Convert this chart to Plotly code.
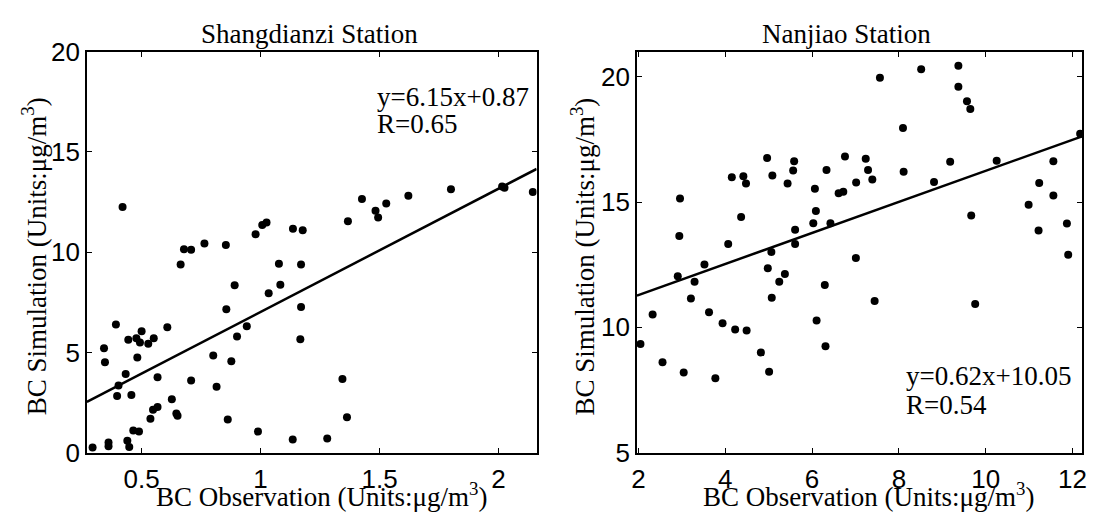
import plotly.graph_objects as go

# ---------------- data ----------------
# Shangdianzi Station
sdz_obs = [0.294, 0.361, 0.361, 0.440, 0.448, 0.465, 0.489, 0.342, 0.346, 0.392,
           0.444, 0.478, 0.493, 0.500, 0.528, 0.551, 0.482, 0.433, 0.403, 0.397,
           0.457, 0.567, 0.537, 0.548, 0.567, 0.608, 0.664, 0.627, 0.646, 0.651,
           0.708, 0.801, 0.815, 0.856, 0.877, 0.862, 0.891, 0.901, 0.942, 0.989,
           1.034, 1.083, 1.077, 1.170, 1.170, 1.167, 1.135, 0.979, 1.007, 1.025,
           1.136, 1.177, 1.344, 1.363, 1.280, 1.367, 1.426, 1.483, 1.494, 1.528,
           1.621, 1.800, 2.015, 2.025, 2.144, 0.420, 0.678, 0.708, 0.764, 0.854]
sdz_sim = [0.25, 0.51, 0.32, 0.59, 0.28, 1.11, 1.05, 5.21, 4.51, 6.39,
           5.63, 5.71, 5.49, 6.06, 5.43, 5.71, 4.75, 3.92, 3.35, 2.83,
           2.88, 3.76, 1.69, 2.14, 2.28, 6.26, 9.39, 2.66, 1.95, 1.84,
           3.60, 4.85, 3.29, 7.15, 4.56, 1.65, 8.35, 5.79, 6.31, 1.05,
           7.95, 8.38, 9.43, 9.39, 7.27, 5.66, 0.65, 10.90, 11.36, 11.48,
           11.17, 11.10, 3.68, 1.77, 0.70, 11.55, 12.66, 12.07, 11.73, 12.43,
           12.82, 13.14, 13.28, 13.21, 13.01, 12.25, 10.15, 10.12, 10.43, 10.36]
sdz_slope, sdz_intercept, sdz_r = 6.15, 0.87, 0.65

# Nanjiao Station
nj_obs = [2.958, 2.942, 4.068, 4.151, 4.417, 4.478, 4.365, 4.964, 5.085, 5.587,
          5.564, 5.436, 5.062, 5.609, 5.609, 6.065, 6.088, 6.028, 6.423, 6.332,
          6.758, 6.612, 6.719, 7.015, 7.563, 8.513, 9.370, 9.370, 9.568, 9.645,
          8.094, 7.236, 7.289, 7.388, 8.109, 8.809, 9.181, 10.252, 9.666, 11.558,
          11.232, 11.558, 10.988, 11.217, 11.870, 11.900, 12.175, 2.047, 2.327, 2.555,
          3.043, 2.906, 3.293, 3.209, 3.521, 3.626, 3.938, 4.228, 4.492, 3.772,
          4.820, 5.010, 5.071, 4.980, 5.244, 5.374, 6.104, 6.293, 6.309, 7.009,
          7.441, 9.757]
nj_sim = [15.14, 13.65, 13.33, 15.99, 16.03, 15.74, 14.41, 16.76, 16.06, 16.63,
          16.26, 15.74, 13.01, 13.90, 13.33, 15.53, 14.64, 14.16, 14.16, 16.28,
          16.82, 15.35, 15.41, 15.78, 19.96, 20.30, 20.44, 19.60, 19.03, 18.72,
          17.96, 16.73, 16.28, 15.90, 16.21, 15.80, 16.61, 16.65, 14.47, 16.63,
          15.76, 15.26, 14.89, 13.87, 14.15, 12.90, 17.73, 9.335, 10.51, 8.61,
          8.195, 12.04, 11.82, 11.15, 12.51, 10.60, 10.16, 9.91, 9.87, 7.97,
          9.00, 8.23, 11.18, 12.36, 11.82, 12.13, 10.27, 11.69, 9.25, 12.77,
          11.05, 10.93]
nj_slope, nj_intercept, nj_r = 0.62, 10.05, 0.54

# axis ranges / ticks
sdz_xrange, sdz_yrange = [0.27, 2.16], [0, 20]
nj_xrange, nj_yrange = [1.965, 12.22], [5, 21]
sdz_xticks, sdz_yticks = [0.5, 1, 1.5, 2], [0, 5, 10, 15, 20]
nj_xticks, nj_yticks = [2, 4, 6, 8, 10, 12], [5, 10, 15, 20]

titles = ["Shangdianzi Station", "Nanjiao Station"]
xlab = "BC Observation (Units:μg/m<sup>3</sup>)"
ylab = "BC Simulation (Units:μg/m<sup>3</sup>)"

# ---------------- figure ----------------
W, H = 1097, 528
SERIF = "Liberation Serif, Times New Roman, serif"
SANS = "Liberation Sans, Arial, sans-serif"

fig = go.Figure()

def add_panel(obs, sim, slope, intercept, xr, xa, ya):
    fig.add_trace(go.Scatter(x=obs, y=sim, mode="markers", xaxis=xa, yaxis=ya,
                             marker=dict(color="black", size=8), showlegend=False))
    lx = [xr[0], xr[1]]
    ly = [slope * v + intercept for v in lx]
    fig.add_trace(go.Scatter(x=lx, y=ly, mode="lines", xaxis=xa, yaxis=ya,
                             line=dict(color="black", width=2.5), showlegend=False))

add_panel(sdz_obs, sdz_sim, sdz_slope, sdz_intercept, sdz_xrange, "x", "y")
add_panel(nj_obs, nj_sim, nj_slope, nj_intercept, nj_xrange, "x2", "y2")

def px_x(p):
    return p / W

def px_y(p):
    return 1 - p / H

axis_common = dict(showline=True, linecolor="black", linewidth=1.5, mirror="ticks",
                   ticks="inside", ticklen=5, tickwidth=1, tickcolor="black",
                   showgrid=False, zeroline=False,
                   tickfont=dict(family=SANS, size=26, color="black"))

ydom = [px_y(464), px_y(39)]
fig.update_layout(
    width=W, height=H, margin=dict(l=0, r=0, t=0, b=0),
    paper_bgcolor="white", plot_bgcolor="white",
    xaxis=dict(domain=[px_x(81.7), px_x(536)], range=sdz_xrange, tickvals=sdz_xticks,
               anchor="y", ticklabelstandoff=2, **axis_common),
    yaxis=dict(domain=ydom, range=sdz_yrange, tickvals=sdz_yticks, anchor="x", **axis_common),
    xaxis2=dict(domain=[px_x(637.3), px_x(1087)], range=nj_xrange, tickvals=nj_xticks,
                anchor="y2", ticklabelstandoff=2, **axis_common),
    yaxis2=dict(domain=ydom, range=nj_yrange, tickvals=nj_yticks, anchor="x2", **axis_common),
)

ann = []
def text(x, y, s, size=27, angle=0, xanchor="center"):
    ann.append(dict(x=px_x(x), y=px_y(y), xref="paper", yref="paper", text=s,
                    showarrow=False, textangle=angle, xanchor=xanchor, yanchor="middle",
                    font=dict(family=SERIF, size=size, color="black")))

# titles
text(306.5, 20, titles[0])
text(849, 20, titles[1])
# axis titles
text(319, 509, xlab)
text(871, 509, xlab)
text(29, 256, ylab, angle=-90)
text(583, 256, ylab, angle=-90)
# regression text
text(373, 87, f"y={sdz_slope:.2f}x+{sdz_intercept:.2f}", xanchor="left")
text(373, 116, f"R={sdz_r:.2f}", xanchor="left")
text(906.7, 383, f"y={nj_slope:.2f}x+{nj_intercept:.2f}", xanchor="left")
text(906.7, 414, f"R={nj_r:.2f}", xanchor="left")

fig.update_layout(annotations=ann)
fig.write_html("out.html", config={"displayModeBar": False},
               post_script="document.body.style.margin='0';document.body.style.overflow='hidden';")
